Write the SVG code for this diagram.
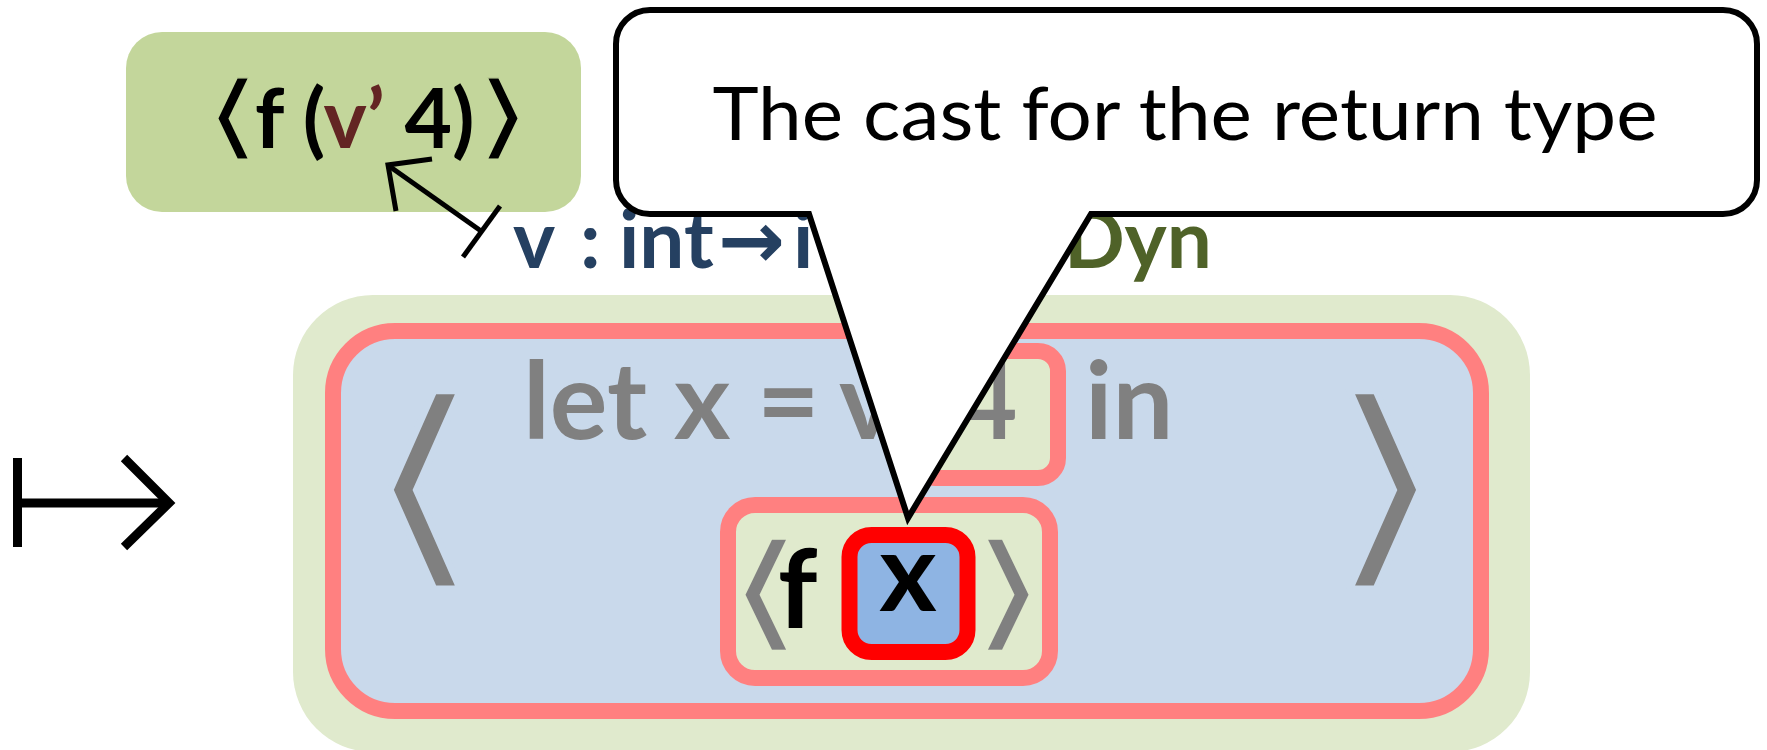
<svg xmlns="http://www.w3.org/2000/svg" width="1767" height="750" viewBox="0 0 1767 750">
<style>
.code{font-family:Lato,"Open Sans","Liberation Sans",sans-serif;font-weight:bold}
.br{font-family:"DejaVu Sans",sans-serif;font-weight:normal}
.pink{stroke:#FF8080;stroke-width:16}
.lg{fill:#E0EACD}
.ink{fill:none;stroke:#000;stroke-linecap:butt}
</style>
<rect width="1767" height="750" fill="#fff"/>
<g id="top-box">
<rect x="126" y="32" width="455" height="180" rx="36" fill="#C3D69B"/>
<text class="br" font-size="60" fill="#000" stroke="#C3D69B" stroke-width="0.7" letter-spacing="-8" transform="translate(205,146.6) scale(2.35,1.52)">⟨</text>
<text class="code" y="148" font-size="82" fill="#000"><tspan x="255">f (</tspan><tspan fill="#632523">v’</tspan><tspan> 4)</tspan></text>
<text class="br" font-size="60" fill="#000" stroke="#C3D69B" stroke-width="0.7" transform="translate(476,146.6) scale(2.35,1.52)">⟩</text>
</g>
<g id="cast-label">
<text class="code" y="268" font-size="80" fill="#254061"><tspan x="513">v</tspan> <tspan x="580">:</tspan> <tspan x="619">int</tspan><tspan font-family="DejaVu Sans,sans-serif" x="718">→</tspan><tspan x="793">i</tspan></text>
<text class="code" x="1064" y="268" font-size="80" fill="#4F6228">Dyn</text>
</g>
<g id="main-expr">
<rect x="293" y="295" width="1237" height="457" rx="80" class="lg"/>
<rect x="333" y="331" width="1148" height="380" rx="62" fill="#C9D9EB" class="pink"/>
<g id="arg-box"><rect x="915" y="351" width="143" height="127" rx="20" class="lg pink"/></g>
<text class="code" y="439" font-size="108" fill="#808080"><tspan x="523">let</tspan> <tspan x="674">x</tspan> <tspan x="757">=</tspan> <tspan x="839">v</tspan> <tspan x="955">4</tspan> <tspan x="1085">in</tspan></text>
<text class="br" font-size="150" fill="#808080" stroke="#C9D9EB" stroke-width="3.4" transform="translate(362,559) scale(2.1,1.47)">⟨</text>
<text class="br" font-size="150" fill="#808080" stroke="#C9D9EB" stroke-width="3.4" transform="translate(1325,559) scale(2.1,1.47)">⟩</text>
<g id="body-box">
<rect x="728" y="505" width="322" height="173" rx="27" class="lg pink"/>
<text class="br" font-size="100" fill="#808080" stroke="#E0EACD" stroke-width="1" letter-spacing="-14" transform="translate(727,634) scale(1.95,1.25)">⟨</text>
<text class="code" x="778" y="628" font-size="110" fill="#000">f</text>
<text class="br" font-size="100" fill="#808080" stroke="#E0EACD" stroke-width="1" transform="translate(971,634) scale(1.95,1.25)">⟩</text>
<g id="var-box">
<rect x="849.5" y="535" width="118" height="117" rx="22" fill="#8EB4E3" stroke="#FF0000" stroke-width="16"/>
<text class="code" x="908" y="611" font-size="110" fill="#000" text-anchor="middle">x</text>
</g>
</g>
</g>
<g id="connectors">
<g id="maps-to-big" class="ink" stroke-width="9">
<line x1="17.5" y1="458" x2="17.5" y2="547"/>
<line x1="22" y1="503" x2="166" y2="503"/>
<polyline points="124,458 169,503 124,547" stroke-linejoin="miter"/>
</g>
<g id="maps-to-small" class="ink" stroke-width="5">
<line x1="500" y1="206" x2="463" y2="257"/>
<line x1="481" y1="231" x2="389" y2="166"/>
<polyline points="432,159 388,165 396,211"/>
</g>
</g>
<g id="callout">
<path d="M650,10 H1723 A34,34 0 0 1 1757,44 V180 A34,34 0 0 1 1723,214 H1091 L908,518 L809,214 H650 A34,34 0 0 1 616,180 V44 A34,34 0 0 1 650,10 Z" fill="#fff" stroke="#000" stroke-width="6" stroke-linejoin="miter"/>
<text x="1185" y="140" font-family="Lato,'Open Sans',sans-serif" font-size="74" text-anchor="middle" textLength="945" lengthAdjust="spacingAndGlyphs">The cast for the return type</text>
</g>
</svg>
